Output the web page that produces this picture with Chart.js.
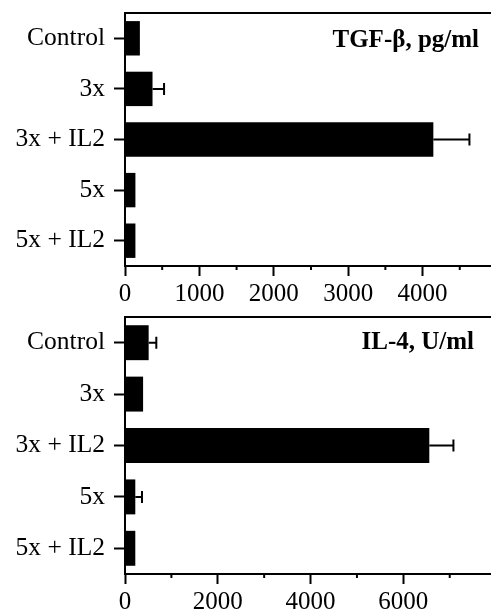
<!DOCTYPE html>
<html>
<head>
<meta charset="utf-8">
<script src="https://cdn.jsdelivr.net/npm/chart.js@4/dist/chart.umd.min.js"></script>
<style>
  body { margin: 0; background: #fff; }
  canvas { display: block; }
</style>
</head>
<body>
<canvas id="tgf" width="491" height="305"></canvas>
<canvas id="il4" width="491" height="305"></canvas>
<script>
const categories = ['Control', '3x', '3x + IL2', '5x', '5x + IL2'];

const tgfValues = [200, 370, 4145, 140, 140];
const tgfErrors = [0, 155, 485, 0, 0];

const il4Values = [510, 390, 6560, 222, 222];
const il4Errors = [165, 0, 520, 144, 0];

const tgfTicks = [0, 1000, 2000, 3000, 4000];
const tgfMinorTicks = [500, 1500, 2500, 3500, 4500];
const il4Ticks = [0, 2000, 4000, 6000];
const il4MinorTicks = [1000, 3000, 5000, 7000];

const serif = '"Liberation Serif", "Times New Roman", serif';

// top frame line, error bars, minor ticks and panel title
const panelPlugin = {
  id: 'panel',
  afterDatasetsDraw(chart, args, opts) {
    const { ctx, chartArea } = chart;
    const x = chart.scales.x;
    const y = chart.scales.y;
    const data = chart.data.datasets[0].data;
    ctx.save();
    ctx.strokeStyle = '#000';
    ctx.lineWidth = 2;

    ctx.beginPath();
    ctx.moveTo(chartArea.left, chartArea.top);
    ctx.lineTo(chartArea.right, chartArea.top);
    ctx.stroke();

    opts.errors.forEach((e, i) => {
      if (!e) return;
      const x0 = x.getPixelForValue(data[i]);
      const x1 = x.getPixelForValue(data[i] + e);
      const yc = y.getPixelForValue(i);
      ctx.beginPath();
      ctx.moveTo(x0, yc);
      ctx.lineTo(x1, yc);
      ctx.moveTo(x1, yc - 6);
      ctx.lineTo(x1, yc + 6);
      ctx.stroke();
    });

    opts.minor.forEach((v) => {
      const px = x.getPixelForValue(v);
      ctx.beginPath();
      ctx.moveTo(px, chartArea.bottom);
      ctx.lineTo(px, chartArea.bottom + 4);
      ctx.stroke();
    });

    ctx.fillStyle = '#000';
    ctx.font = 'bold 25px ' + serif;
    ctx.textAlign = 'right';
    ctx.textBaseline = 'middle';
    ctx.fillText(opts.title, opts.titleRight, opts.titleY);
    ctx.restore();
  }
};

function buildPanel(el, values, errors, cfg) {
  return new Chart(el, {
    type: 'bar',
    data: {
      labels: categories,
      datasets: [{
        data: values,
        backgroundColor: '#000',
        borderWidth: 0,
        barPercentage: 0.68,
        categoryPercentage: 1
      }]
    },
    options: {
      indexAxis: 'y',
      responsive: false,
      animation: false,
      devicePixelRatio: 1,
      layout: { padding: { top: cfg.top, right: 0, left: 0, bottom: 0 } },
      scales: {
        x: {
          min: 0,
          max: cfg.max,
          afterBuildTicks: (scale) => {
            scale.ticks = cfg.ticks.map((v) => ({ value: v }));
          },
          afterFit: (scale) => {
            scale.height = cfg.axisHeight;
            scale.paddingLeft = 0;
            scale.paddingRight = 0;
          },
          border: { display: true, color: '#000', width: 2 },
          grid: {
            drawOnChartArea: false,
            drawTicks: true,
            tickLength: 10,
            tickWidth: 2,
            tickColor: '#000'
          },
          ticks: {
            callback: (v) => String(v),
            maxRotation: 0,
            autoSkip: false,
            padding: 3,
            color: '#000',
            font: { family: serif, size: 25 }
          }
        },
        y: {
          afterFit: (scale) => {
            scale.width = 125;
            scale.paddingTop = 0;
            scale.paddingBottom = 0;
          },
          border: { display: true, color: '#000', width: 2 },
          grid: {
            offset: false,
            drawOnChartArea: false,
            drawTicks: true,
            tickLength: 11,
            tickWidth: 2,
            tickColor: '#000'
          },
          ticks: {
            padding: 9,
            color: '#000',
            font: { family: serif, size: 25.5 }
          }
        }
      },
      plugins: {
        legend: { display: false },
        tooltip: { enabled: false },
        panel: {
          errors: errors,
          minor: cfg.minor,
          title: cfg.title,
          titleRight: cfg.titleRight,
          titleY: cfg.titleY
        }
      }
    },
    plugins: [panelPlugin]
  });
}

buildPanel(document.getElementById('tgf'), tgfValues, tgfErrors, {
  top: 13, axisHeight: 39, max: 4920, ticks: tgfTicks, minor: tgfMinorTicks,
  title: 'TGF-β, pg/ml', titleRight: 479, titleY: 41
});

buildPanel(document.getElementById('il4'), il4Values, il4Errors, {
  top: 12, axisHeight: 36, max: 7890, ticks: il4Ticks, minor: il4MinorTicks,
  title: 'IL-4, U/ml', titleRight: 474, titleY: 38
});
</script>
</body>
</html>
